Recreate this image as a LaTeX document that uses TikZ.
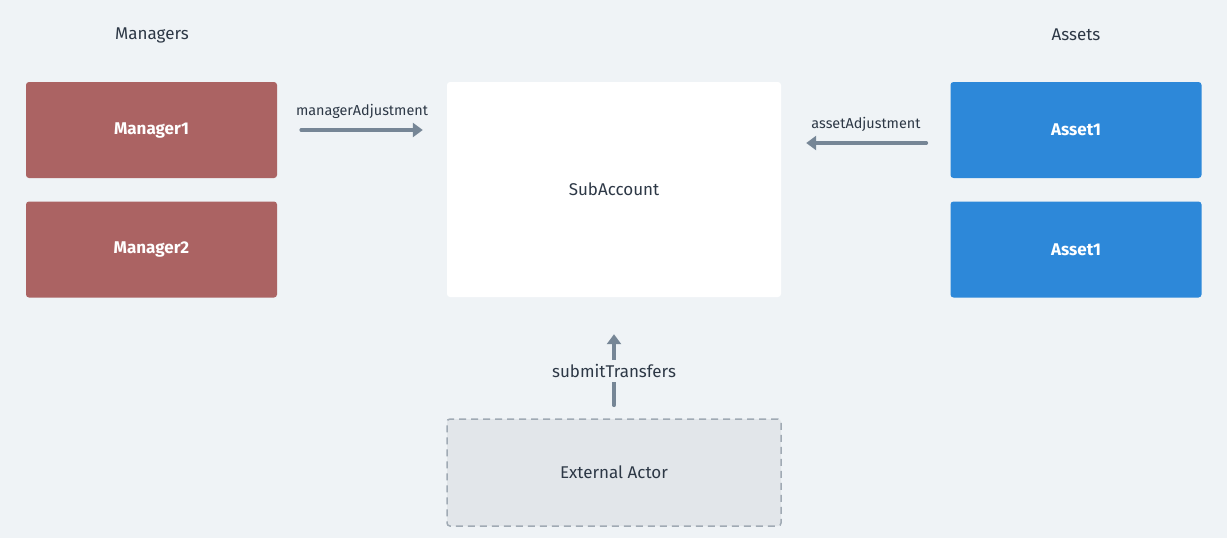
\documentclass[tikz,border=0pt]{standalone}
\usepackage{fontspec}
\setmainfont{Fira Sans}
\definecolor{bgcol}{HTML}{EFF3F6}
\definecolor{mgrcol}{HTML}{AB6363}
\definecolor{assetcol}{HTML}{2D88D9}
\definecolor{arrowcol}{HTML}{768696}
\definecolor{textcol}{HTML}{2D3846}
\definecolor{extcol}{HTML}{E2E6EA}
\definecolor{dashcol}{HTML}{A0AAB4}
\tikzset{
    box/.style={rounded corners=3pt, minimum width=251pt, minimum height=96pt,
        inner sep=0pt, font=\fontsize{17}{19}\selectfont\bfseries, text=white},
    mgrbox/.style={box, fill=mgrcol},
    assetbox/.style={box, fill=assetcol},
    lbl/.style={font=\fontsize{17}{19}\selectfont, text=textcol},
    smalllbl/.style={font=\fontsize{14.4}{16}\selectfont, text=textcol},
    flow/.style={draw=arrowcol, line width=3.6pt, line cap=round,
        -{Triangle[length=10pt,width=14pt]}},
}
\usetikzlibrary{arrows.meta}
\begin{document}
\begin{tikzpicture}[x=1pt,y=-1pt]
        %% Background
        \fill[bgcol] (0,0) rectangle (1227,538);
        \useasboundingbox (0,0) rectangle (1227,538);
        %% Column titles
        \node[lbl] (mgrtitle) at (152,35) {Managers};
        \node[lbl] (assettitle) at (1076,35) {Assets};
        %% Boxes
        \node[mgrbox] (mgr1) at (151.5,130) {Manager1};
        \node[mgrbox] (mgr2) at (151.5,249.5) {Manager2};
        \node[assetbox] (asset1) at (1076,130) {Asset1};
        \node[assetbox] (asset2) at (1076,249.5) {Asset1};
        \node[box, fill=white, minimum width=334pt, minimum height=215pt,
            lbl] (sub) at (614,189.5) {SubAccount};
        \node[box, fill=extcol, draw=dashcol, line width=1.5pt,
            dash pattern=on 7pt off 5pt, minimum width=334pt, minimum height=107pt,
            lbl] (ext) at (614,472.5) {External Actor};
        %% Arrows and labels
        \draw[flow, shorten <=24pt, shorten >=24pt] (mgr1.east) -- (sub.west |- mgr1.east);
        \node[smalllbl] (mgradj) at (362,111) {managerAdjustment};
        \draw[flow, shorten <=24pt, shorten >=25pt] ([yshift=-13pt]asset1.west) -- ([yshift=-13pt]sub.east |- asset1.west);
        \node[smalllbl] (assetadj) at (866,124) {assetAdjustment};
        \draw[flow, shorten <=13pt, shorten >=37pt] (ext.north) -- (sub.south);
        \node[lbl, fill=bgcol, inner sep=4pt] (submit) at (614,371) {submitTransfers};
    \end{tikzpicture}
\end{document}
